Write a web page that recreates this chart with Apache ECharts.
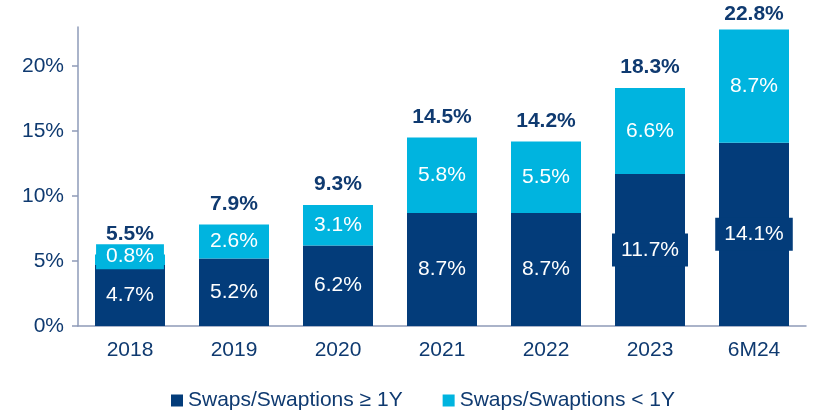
<!DOCTYPE html>
<html>
<head>
<meta charset="utf-8">
<script src="https://cdn.jsdelivr.net/npm/echarts@6/dist/echarts.min.js"></script>
<style>
  html, body { margin: 0; padding: 0; background: #fff; }
  #chart { width: 817px; height: 410px; }
</style>
</head>
<body>
<div id="chart"></div>
<script>
var categories = ['2018', '2019', '2020', '2021', '2022', '2023', '6M24'];
var longTerm = [4.7, 5.2, 6.2, 8.7, 8.7, 11.7, 14.1];
var shortTerm = [0.8, 2.6, 3.1, 5.8, 5.5, 6.6, 8.7];
var totals = [5.5, 7.9, 9.3, 14.5, 14.2, 18.3, 22.8];
var yTicks = [0, 5, 10, 15, 20];

var navy = '#033c7a';
var cyan = '#00b4df';
var textNavy = '#0f3a70';

var myChart = echarts.init(document.getElementById('chart'));

// the 11.7% / 14.1% labels sit in a navy box a bit wider than the bar
var longData = longTerm.map(function (v, i) {
    if (i < 5) return v;
    return { value: v, label: { backgroundColor: navy, padding: [6, 9, 6, 9] } };
});
// 0.8% is too thin for its label, so the label gets a cyan box
var shortData = shortTerm.map(function (v, i) {
    if (i != 0) return v;
    return { value: v, label: { backgroundColor: cyan, padding: [3, 10, 1, 10], offset: [0, -3] } };
});
// last total label sits closer to its bar (top of the plot)
var totalData = totals.map(function (v, i) {
    return i == totals.length - 1 ? { value: 0, label: { distance: 5 } } : 0;
});

var option = {
    animation: false,
    textStyle: { fontFamily: 'Liberation Sans, Arial, sans-serif' },
    grid: { left: 78, right: 11, top: 27, bottom: 84 },
    legend: {
        data: ['Swaps/Swaptions \u2265 1Y', 'Swaps/Swaptions < 1Y'],
        top: 390,
        left: 171,
        padding: 0,
        itemWidth: 12,
        itemHeight: 12,
        itemGap: 40,
        icon: 'rect',
        textStyle: { fontSize: 21, color: textNavy }
    },
    xAxis: {
        type: 'category',
        data: categories,
        axisLine: { lineStyle: { color: '#8e9bb8', width: 1.5 } },
        axisTick: { show: false },
        axisLabel: { fontSize: 21, color: textNavy, margin: 14 }
    },
    yAxis: {
        type: 'value',
        min: 0,
        max: 23,
        interval: 5,
        splitLine: { show: false },
        axisLine: { show: true, lineStyle: { color: '#8e9bb8', width: 1.5 } },
        axisTick: { show: true, length: 6, customValues: yTicks, lineStyle: { color: '#8e9bb8', width: 1.5 } },
        axisLabel: {
            fontSize: 21, color: textNavy, margin: 14,
            customValues: yTicks,
            formatter: '{value}%'
        }
    },
    series: [
        {
            name: 'Swaps/Swaptions \u2265 1Y',
            type: 'bar',
            stack: 'a',
            barWidth: 70,
            data: longData,
            itemStyle: { color: navy },
            label: {
                show: true, position: 'inside', color: '#fff', fontSize: 21,
                formatter: function (p) { return p.value.toFixed(1) + '%'; }
            }
        },
        {
            name: 'Swaps/Swaptions < 1Y',
            type: 'bar',
            stack: 'a',
            barWidth: 70,
            data: shortData,
            itemStyle: { color: cyan },
            label: {
                show: true, position: 'inside', color: '#fff', fontSize: 21,
                formatter: function (p) { return p.value.toFixed(1) + '%'; }
            }
        },
        {
            name: 'Total',
            type: 'bar',
            stack: 'a',
            barWidth: 70,
            data: totalData,
            itemStyle: { color: 'transparent' },
            label: {
                show: true, position: 'top', distance: 10,
                color: textNavy, fontSize: 21, fontWeight: 'bold',
                formatter: function (p) { return totals[p.dataIndex].toFixed(1) + '%'; }
            }
        }
    ]
};

myChart.setOption(option);
window.addEventListener('resize', myChart.resize);
</script>
</body>
</html>
